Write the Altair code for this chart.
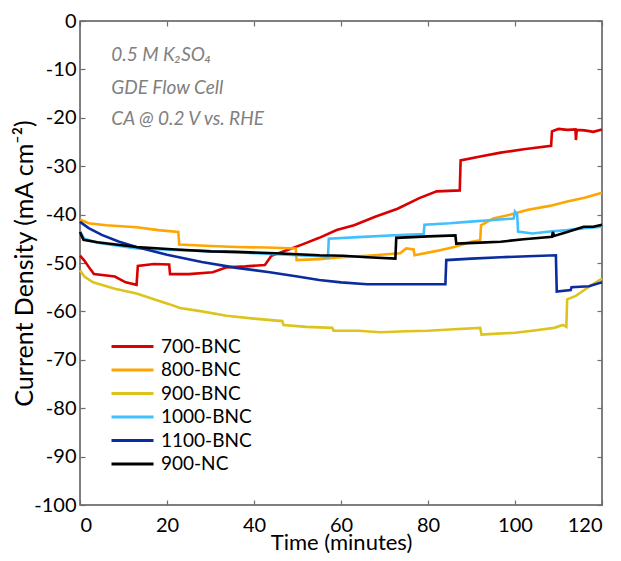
import altair as alt
import pandas as pd

FONT = "Lato"

names = ["700-BNC", "800-BNC", "900-BNC", "1000-BNC", "1100-BNC", "900-NC"]
colors = ["#d90000", "#ffa500", "#dcc41c", "#40c0ff", "#0a2c9e", "#000000"]

t_700 = [0, 1, 2, 3.2, 8, 10.5, 13, 13.3, 17, 20.5, 20.7, 25, 30.5, 33.7, 38, 42.5, 44, 48, 51, 55,
         59, 63, 68, 73, 78, 82, 87.3, 87.5, 92, 96.7, 102, 108.3, 108.5, 110, 112, 113.9, 114, 114.2,
         116, 118, 120]
v_700 = [-48.5, -49.5, -50.8, -52.3, -52.8, -54, -54.5, -50.6, -50.2, -50.3, -52.3, -52.3, -51.9, -50.9,
         -50.7, -50.4, -48.5, -47.2, -46.2, -44.8, -43.2, -42.2, -40.4, -38.8, -36.6, -35.2, -35, -28.8,
         -28, -27.2, -26.5, -25.8, -22.8, -22.3, -22.5, -22.4, -24.6, -22.5, -22.6, -22.9, -22.4]

t_800 = [0, 2, 6, 13, 18, 22.6, 22.8, 30, 36, 43, 49.6, 49.8, 55, 60, 66, 73.6, 75, 76.7, 76.9, 82, 86,
         90, 92, 92.2, 95, 99, 103, 108, 112, 116, 120]
v_800 = [-41, -41.8, -42.2, -42.6, -43.2, -43.6, -46.2, -46.5, -46.7, -46.8, -47, -49.4, -49.2, -48.8,
         -48.5, -48, -47, -47.2, -48.4, -47.5, -46.7, -45.6, -45.3, -42.2, -40.8, -40, -39, -38.2, -37.3,
         -36.5, -35.5]

t_900 = [0, 1, 3, 8, 13, 17, 20.5, 23, 28, 33.7, 40, 46.5, 46.8, 52, 58, 58.3, 64, 69, 75, 80, 86, 92,
         92.3, 96, 100, 104, 109, 111, 111.8, 112, 114, 117.5, 120]
v_900 = [-51.5, -52.8, -54, -55.3, -56.3, -57.5, -58.5, -59.3, -60, -60.9, -61.5, -62, -62.8, -63.2,
         -63.4, -64, -64, -64.3, -64.1, -64, -63.7, -63.4, -64.8, -64.6, -64.4, -64, -63.4, -62.8, -63.2,
         -57.5, -56.8, -54.6, -53.2]

t_1000 = [0, 1, 4, 13, 25, 36, 45, 55, 57, 57.2, 65, 73.6, 79, 79.2, 85, 89, 95, 99.7, 100, 100.5,
          100.7, 104, 108, 112, 116, 120]
v_1000 = [-43.5, -45, -45.8, -47, -47.4, -47.8, -48.2, -48.6, -48.8, -45, -44.6, -44.2, -44, -42.1,
          -41.8, -41.5, -41.1, -40.8, -39.4, -40, -43.5, -43.9, -43.5, -43.2, -42.8, -42.5]

t_1100 = [0, 2, 5, 9, 13, 20, 28, 36, 43.6, 50, 55, 60, 66, 75, 84, 84.2, 90, 96.7, 103, 109.4, 109.6,
          112.8, 113, 117, 120]
v_1100 = [-41.5, -42.8, -44.2, -45.6, -46.7, -48.3, -49.8, -51, -51.9, -52.8, -53.5, -54, -54.4, -54.4,
          -54.4, -49.4, -49.1, -48.8, -48.6, -48.4, -55.9, -55.6, -55, -54.8, -54]

t_nc = [0, 0.8, 4, 13, 22, 30, 36, 45, 55, 60.5, 66, 72.5, 72.7, 80, 86.3, 86.5, 92, 96.7, 102, 108.5,
        108.7, 109, 112, 115.8, 118, 120]
v_nc = [-43.6, -45.2, -45.7, -46.7, -47.2, -47.6, -47.7, -48, -48.4, -48.5, -48.8, -49.1, -44.8, -44.5,
        -44.3, -46, -45.8, -45.6, -45.1, -44.6, -43.6, -44.4, -43.6, -42.5, -42.5, -42.1]

x_ticks = [0, 20, 40, 60, 80, 100, 120]
y_ticks = [0, -10, -20, -30, -40, -50, -60, -70, -80, -90, -100]

notes = ["0.5 M K\u2082SO\u2084", "GDE Flow Cell", "CA @ 0.2 V vs. RHE"]
note_t = [7.2, 7.2, 7.2]
note_v = [-7.1, -13.8, -20.2]

series = [(t_700, v_700), (t_800, v_800), (t_900, v_900), (t_1000, v_1000), (t_1100, v_1100), (t_nc, v_nc)]
rows = []
for name, (ts, vs) in zip(names, series):
    for i, (t, v) in enumerate(zip(ts, vs)):
        rows.append({"series": name, "t": t, "v": v, "idx": i})
df = pd.DataFrame(rows)
notes_df = pd.DataFrame({"t": note_t, "v": note_v, "text": notes})

xscale = alt.Scale(domain=[0, 120], nice=False, zero=False)
yscale = alt.Scale(domain=[-100, 0], nice=False)

TICK_COLOR = "#6e6e6e"
LABEL_EXPR = "'' + datum.value"

lines = alt.Chart(df).mark_line(strokeWidth=2.6).encode(
    x=alt.X("t:Q", scale=xscale, axis=alt.Axis(
        orient="bottom", values=x_ticks, title="Time (minutes)", offset=-5, tickSize=5,
        domain=False, labelPadding=10, titlePadding=-3, titleFontSize=22, labelExpr=LABEL_EXPR)),
    y=alt.Y("v:Q", scale=yscale, axis=alt.Axis(
        orient="left", values=y_ticks, title="Current Density (mA cm\u207b\u00b2)", offset=-5,
        tickSize=5, domain=False, labelPadding=4, titlePadding=-4, titleFontSize=25,
        labelExpr=LABEL_EXPR)),
    color=alt.Color("series:N", scale=alt.Scale(domain=names, range=colors), legend=alt.Legend(
        title=None, orient="none", legendX=43, legendY=316, symbolType="M-3,0H3", symbolSize=196,
        symbolStrokeWidth=3, labelFontSize=19, labelFont=FONT, labelOffset=19, rowPadding=3.5,
        padding=0, labelColor="#000000")),
    order="idx:Q",
)

text = alt.Chart(notes_df).mark_text(
    align="left", baseline="middle", fontStyle="italic", fontSize=19, font=FONT, color="#808080"
).encode(
    x=alt.X("t:Q", scale=xscale, axis=alt.Axis(
        orient="top", values=x_ticks, labels=False, title=None, offset=-5, tickSize=5, domain=False)),
    y=alt.Y("v:Q", scale=yscale, axis=alt.Axis(
        orient="right", values=y_ticks, labels=False, title=None, offset=-5, tickSize=5, domain=False)),
    text="text:N",
)

chart = alt.layer(lines, text).resolve_axis(x="independent", y="independent").properties(
    width=522, height=484,
    autosize=alt.AutoSizeParams(type="none"),
    padding={"left": 72, "top": 13, "right": 11, "bottom": 48},
).configure_view(stroke="#555555", strokeWidth=1.5).configure_axis(
    grid=False, tickColor=TICK_COLOR, tickWidth=1.2, labelFont=FONT, titleFont=FONT,
    labelFontSize=20, titleFontWeight="normal", labelColor="#000000",
    titleColor="#000000",
)

chart.save("out.html", embed_options={"renderer": "svg", "actions": False})
